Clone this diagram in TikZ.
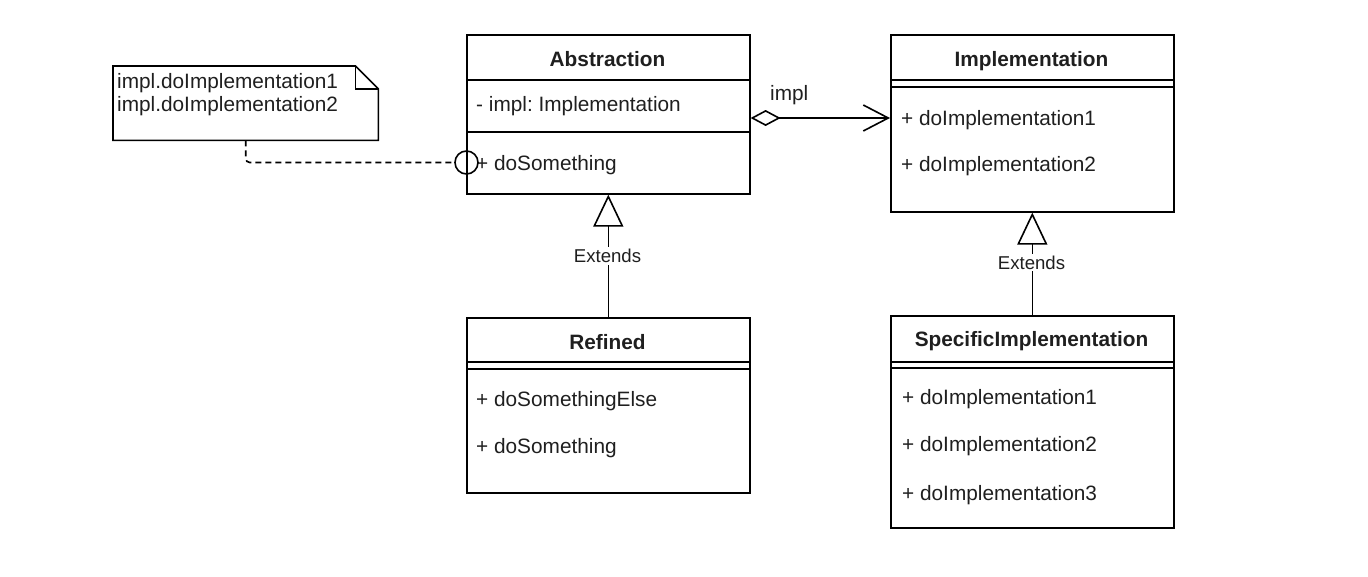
\documentclass[tikz,border=0pt]{standalone}
\usepackage{fontspec}
\setmainfont{Liberation Sans}
\usetikzlibrary{arrows.meta}
\frenchspacing
\begin{document}
\begin{tikzpicture}[x=1pt,y=-1pt,
  box/.style={draw=black, line width=1.6pt, anchor=north west, inner sep=0pt},
  txt/.style={anchor=base west, inner sep=0pt, text=black!88, font=\fontsize{20.8}{25}\selectfont},
  ttl/.style={anchor=base, inner sep=0pt, text=black!88, font=\fontsize{20.8}{25}\selectfont\bfseries},
  lbl/.style={anchor=base, inner sep=2pt, fill=white, text=black!88, font=\fontsize{18.6}{22}\selectfont},
  ln/.style={line width=1.6pt, draw=black},
  inherit/.style={ln, -{Triangle[open, length=32pt, width=30pt, fill=white]}}]
\useasboundingbox (0,0) rectangle (1368,576);

% class boxes
\node[box, minimum width=283pt, minimum height=159pt] (abs) at (466,34) {};
\node[box, minimum width=283pt, minimum height=177pt] (impl) at (890,34) {};
\node[box, minimum width=283pt, minimum height=175pt] (ref) at (466,317) {};
\node[box, minimum width=283pt, minimum height=212pt] (spec) at (890,315) {};

% dividers
\draw[ln] (abs.west |- 0,80) -- (abs.east |- 0,80);
\draw[ln] (abs.west |- 0,132) -- (abs.east |- 0,132);
\draw[ln] (impl.west |- 0,80) -- (impl.east |- 0,80);
\draw[ln] (impl.west |- 0,87) -- (impl.east |- 0,87);
\draw[ln] (ref.west |- 0,362) -- (ref.east |- 0,362);
\draw[ln] (ref.west |- 0,369) -- (ref.east |- 0,369);
\draw[ln] (spec.west |- 0,362) -- (spec.east |- 0,362);
\draw[ln] (spec.west |- 0,368) -- (spec.east |- 0,368);

% texts
\node[ttl] (absT) at (607.5,66.5) {Abstraction};
\node[txt] (absA) at (476,111.5) {- impl: Implementation};
\node[txt] (absM) at (476,170) {+ doSomething};

\node[ttl] (implT) at (1031.5,66.5) {Implementation};
\node[txt] (implM1) at (901,125) {+ doImplementation1};
\node[txt] (implM2) at (901,171.5) {+ doImplementation2};

\node[ttl] (refT) at (607.5,349) {Refined};
\node[txt] (refM1) at (476,406.7) {+ doSomethingElse};
\node[txt] (refM2) at (476,453) {+ doSomething};

\node[ttl] (specT) at (1031.5,346.7) {SpecificImplementation};
\node[txt] (specM1) at (902,404) {+ doImplementation1};
\node[txt] (specM2) at (902,451.7) {+ doImplementation2};
\node[txt] (specM3) at (902,500) {+ doImplementation3};

% note
\node[anchor=north west, inner sep=0pt, minimum width=265pt, minimum height=74pt] (note) at (113,66) {};
\draw[ln] (note.north west) -- ([xshift=-23pt]note.north east) -- ([yshift=-23pt]note.north east)
  -- (note.south east) -- (note.south west) -- cycle;
\draw[ln] ([xshift=-23pt]note.north east) -- ([xshift=-23pt,yshift=-23pt]note.north east)
  -- ([yshift=-23pt]note.north east);
\node[txt] (noteL1) at (117,88.3) {impl.doImplementation1};
\node[txt] (noteL2) at (117,111.3) {impl.doImplementation2};

% note connector
\node[draw=black, line width=1.6pt, circle, inner sep=0pt, minimum size=23pt] (circ) at (466.5,162.5) {};
\draw[ln, dash pattern=on 6pt off 4pt, rounded corners=4pt] (note.south) -- (note.south |- circ) -- (circ.west);

% aggregation
\draw[ln, {Diamond[open, length=30pt, width=16pt]}-{Straight Barb[length=25pt, width=26pt]}]
  (abs.east |- 0,118) -- (impl.west |- 0,118);
\node[txt] (aggL) at (770,100.5) {impl};

% inheritance
\draw[inherit] (ref.north) -- (abs.south);
\node[lbl] (ext1) at (607.5,262.5) {Extends};
\draw[inherit] (spec.north) -- (impl.south);
\node[lbl] (ext2) at (1031.5,269) {Extends};
\end{tikzpicture}
\end{document}
